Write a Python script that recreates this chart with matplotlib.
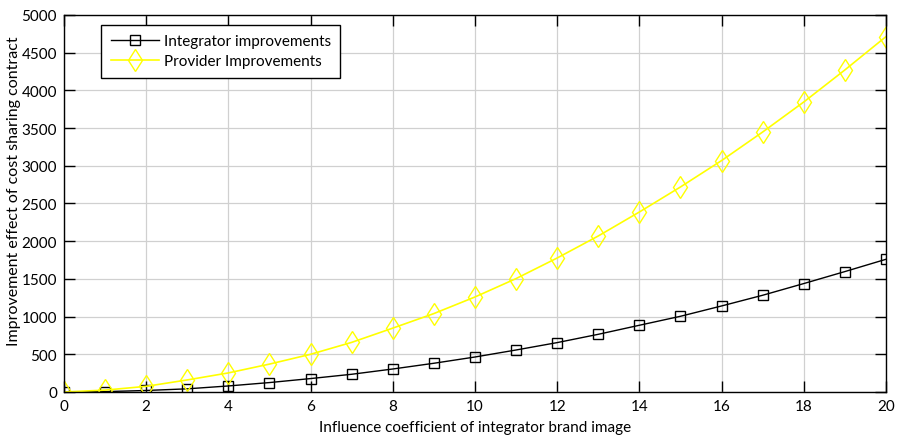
import matplotlib.pyplot as plt
import numpy as np

plt.rcParams['font.family'] = ['Lato', 'DejaVu Sans']

x = np.arange(0, 21)
integrator = [0, 5, 20, 42, 80, 125, 178, 235, 305, 381, 464,
              557, 655, 765, 885, 1004, 1141, 1283, 1438, 1597, 1760]
provider = [0, 25, 75, 160, 253, 370, 500, 658, 847, 1040, 1260,
            1504, 1777, 2069, 2387, 2719, 3069, 3448, 3846, 4271, 4713]

fig = plt.figure(figsize=(8.97, 4.39), dpi=100)
ax = fig.add_axes([0.0713, 0.1048, 0.9164, 0.8588])

ax.plot(x, integrator, color='black', lw=1, marker='s', ms=7,
        mfc='none', mec='black', label='Integrator improvements')
ax.plot(x, provider, color='#ffff00', lw=1.2, marker='d', ms=11.5,
        mfc='none', mec='#ffff00', label='Provider Improvements')

ax.set_xlim(0, 20)
ax.set_ylim(0, 5000)
ax.set_xticks(np.arange(0, 21, 2))
ax.set_yticks(np.arange(0, 5001, 500))
ax.grid(True, color='#d0d0d0', lw=0.9)
ax.set_axisbelow(True)
ax.tick_params(direction='in', length=8, width=1, top=True, right=True,
               labelsize=11, pad=5)
for s in ax.spines.values():
    s.set_linewidth(1)

ax.set_xlabel('Influence coefficient of integrator brand image', fontsize=11, labelpad=5)
ax.set_ylabel('Improvement effect of cost sharing contract', fontsize=11.5, labelpad=-1)
ax.yaxis.set_label_coords(-0.052, 0.535)

leg = ax.legend(loc='upper left', bbox_to_anchor=(0.04, 0.985), fontsize=11,
                fancybox=False, edgecolor='black', framealpha=1,
                handlelength=3.2, borderpad=0.6, labelspacing=0.4,
                handletextpad=0.3, borderaxespad=0.3)
leg.get_frame().set_linewidth(1)

fig.savefig('out.png', dpi=100)
